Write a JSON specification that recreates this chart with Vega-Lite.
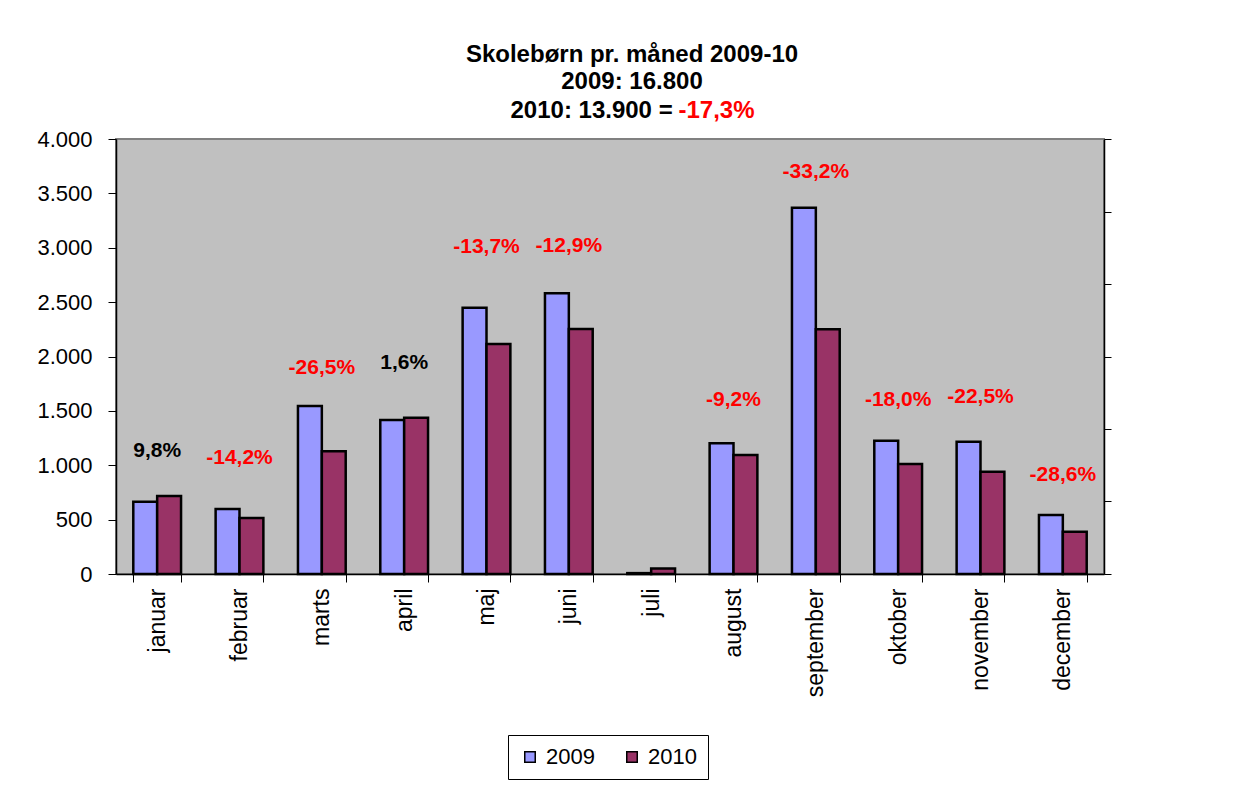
{
  "$schema": "https://vega.github.io/schema/vega-lite/v6.json",
  "autosize": {"type": "none"},
  "padding": {"left": 116, "top": 139, "right": 140, "bottom": 211},
  "width": 988,
  "height": 435,
  "background": "white",
  "title": {
    "text": ["Skolebørn pr. måned 2009-10", "2009: 16.800"],
    "font": "Liberation Sans",
    "fontSize": 24,
    "fontWeight": "bold",
    "lineHeight": 27.5,
    "color": "black",
    "anchor": "middle",
    "dx": 22,
    "offset": 4
  },
  "datasets": {
    "bars": [
      {"maaned": "januar", "aar": "2009", "antal": 665},
      {"maaned": "januar", "aar": "2010", "antal": 717},
      {"maaned": "februar", "aar": "2009", "antal": 598},
      {"maaned": "februar", "aar": "2010", "antal": 515},
      {"maaned": "marts", "aar": "2009", "antal": 1545},
      {"maaned": "marts", "aar": "2010", "antal": 1128},
      {"maaned": "april", "aar": "2009", "antal": 1416},
      {"maaned": "april", "aar": "2010", "antal": 1437},
      {"maaned": "maj", "aar": "2009", "antal": 2449},
      {"maaned": "maj", "aar": "2010", "antal": 2115},
      {"maaned": "juni", "aar": "2009", "antal": 2581},
      {"maaned": "juni", "aar": "2010", "antal": 2253},
      {"maaned": "juli", "aar": "2009", "antal": 8},
      {"maaned": "juli", "aar": "2010", "antal": 50},
      {"maaned": "august", "aar": "2009", "antal": 1202},
      {"maaned": "august", "aar": "2010", "antal": 1094},
      {"maaned": "september", "aar": "2009", "antal": 3368},
      {"maaned": "september", "aar": "2010", "antal": 2250},
      {"maaned": "oktober", "aar": "2009", "antal": 1226},
      {"maaned": "oktober", "aar": "2010", "antal": 1011},
      {"maaned": "november", "aar": "2009", "antal": 1217},
      {"maaned": "november", "aar": "2010", "antal": 941},
      {"maaned": "december", "aar": "2009", "antal": 543},
      {"maaned": "december", "aar": "2010", "antal": 389}
    ],
    "labels": [
      {"maaned": "januar", "tekst": "9,8%", "aendring": 9.8, "etiket": 1131},
      {"maaned": "februar", "tekst": "-14,2%", "aendring": -14.2, "etiket": 1067},
      {"maaned": "marts", "tekst": "-26,5%", "aendring": -26.5, "etiket": 1894},
      {"maaned": "april", "tekst": "1,6%", "aendring": 1.6, "etiket": 1943},
      {"maaned": "maj", "tekst": "-13,7%", "aendring": -13.7, "etiket": 3010},
      {"maaned": "juni", "tekst": "-12,9%", "aendring": -12.9, "etiket": 3016},
      {"maaned": "august", "tekst": "-9,2%", "aendring": -9.2, "etiket": 1600},
      {"maaned": "september", "tekst": "-33,2%", "aendring": -33.2, "etiket": 3697},
      {"maaned": "oktober", "tekst": "-18,0%", "aendring": -18.0, "etiket": 1600},
      {"maaned": "november", "tekst": "-22,5%", "aendring": -22.5, "etiket": 1630},
      {"maaned": "december", "tekst": "-28,6%", "aendring": -28.6, "etiket": 910}
    ]
  },
  "config": {
    "view": {"fill": "#C0C0C0", "stroke": "#808080", "strokeWidth": 2},
    "font": "Liberation Sans",
    "axisX": {
      "tickBand": "extent",
      "tickSize": 8,
      "tickColor": "black",
      "domainColor": "black",
      "domainWidth": 1.5,
      "labelAngle": 270,
      "labelAlign": "right",
      "labelBaseline": "middle",
      "labelFontSize": 23,
      "labelFont": "Liberation Sans",
      "labelColor": "black",
      "labelPadding": 6,
      "grid": false,
      "title": null
    }
  },
  "layer": [
    {
      "data": {"name": "bars"},
      "mark": {"type": "bar", "stroke": "black", "strokeWidth": 2.5},
      "encoding": {
        "x": {
          "field": "maaned",
          "type": "nominal",
          "sort": ["januar", "februar", "marts", "april", "maj", "juni", "juli", "august", "september", "oktober", "november", "december"],
          "scale": {"paddingInner": 0.42, "paddingOuter": 0.21}
        },
        "xOffset": {
          "field": "aar",
          "type": "nominal",
          "scale": {"paddingInner": 0, "paddingOuter": 0}
        },
        "y": {
          "field": "antal",
          "type": "quantitative",
          "scale": {"domain": [0, 4000], "nice": false},
          "axis": {
            "orient": "left",
            "values": [0, 500, 1000, 1500, 2000, 2500, 3000, 3500, 4000],
            "labelExpr": "replace(format(datum.value, ',d'), ',', '.')",
            "labelFontSize": 22,
            "labelFont": "Liberation Sans",
            "labelColor": "black",
            "labelPadding": 16,
            "tickSize": 8,
            "tickColor": "black",
            "domainColor": "black",
            "domainWidth": 1.5,
            "grid": false,
            "title": "2010: 13.900 =",
            "titleAngle": 0,
            "titleAlign": "left",
            "titleBaseline": "alphabetic",
            "titleX": 394,
            "titleY": -21.7,
            "titleFont": "Liberation Sans",
            "titleFontSize": 24,
            "titleFontWeight": "bold",
            "titleColor": "black"
          }
        },
        "color": {
          "field": "aar",
          "type": "nominal",
          "scale": {"domain": ["2009", "2010"], "range": ["#9999FF", "#993366"]},
          "legend": {
            "orient": "none",
            "legendX": 392,
            "legendY": 596,
            "direction": "horizontal",
            "title": null,
            "symbolType": "square",
            "symbolSize": 110,
            "symbolStrokeColor": "black",
            "symbolStrokeWidth": 1.5,
            "labelFontSize": 22,
            "labelFont": "Liberation Sans",
            "labelColor": "black",
            "labelOffset": 5,
            "columnPadding": 26,
            "padding": 11,
            "fillColor": "white",
            "strokeColor": "black"
          }
        }
      }
    },
    {
      "data": {"name": "labels"},
      "mark": {"type": "text", "fontSize": 21, "fontWeight": "bold", "font": "Liberation Sans", "baseline": "middle", "align": "center"},
      "encoding": {
        "x": {
          "field": "maaned",
          "type": "nominal",
          "sort": ["januar", "februar", "marts", "april", "maj", "juni", "juli", "august", "september", "oktober", "november", "december"]
        },
        "y": {
          "field": "etiket",
          "type": "quantitative",
          "scale": {"domain": [0, 4000], "nice": false},
          "axis": {
            "orient": "right",
            "values": [0, 666.67, 1333.33, 2000, 2666.67, 3333.33, 4000],
            "labels": false,
            "tickSize": 7,
            "tickColor": "black",
            "domainColor": "black",
            "domainWidth": 1.5,
            "grid": false,
            "title": "-17,3%",
            "titleAngle": 0,
            "titleAlign": "left",
            "titleBaseline": "alphabetic",
            "titleX": -426,
            "titleY": -21.7,
            "titleFont": "Liberation Sans",
            "titleFontSize": 24,
            "titleFontWeight": "bold",
            "titleColor": "#FF0000"
          }
        },
        "text": {"field": "tekst"},
        "fill": {
          "condition": {"test": "datum.aendring < 0", "value": "#FF0000"},
          "value": "black"
        }
      }
    }
  ],
  "resolve": {"scale": {"y": "shared"}, "axis": {"y": "independent"}}
}
